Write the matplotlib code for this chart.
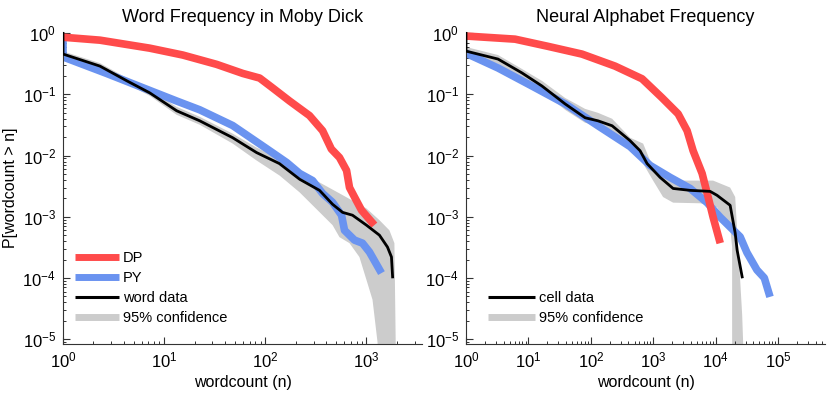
import matplotlib
matplotlib.use("Agg")
import matplotlib.pyplot as plt
from matplotlib.lines import Line2D
from matplotlib.ticker import LogLocator, NullFormatter

plt.rcParams['font.family'] = ['Liberation Sans', 'DejaVu Sans']
plt.rcParams['mathtext.fontset'] = 'custom'
plt.rcParams['mathtext.rm'] = 'Liberation Sans'
plt.rcParams['mathtext.it'] = 'Liberation Sans:italic'
plt.rcParams['mathtext.bf'] = 'Liberation Sans:bold'

# ---------------- Left panel: Word Frequency in Moby Dick ----------------
dp_word_n = [1, 2.32, 7.2, 15.3, 33, 60, 88, 118, 174, 274, 369, 450, 542, 637, 681, 763, 895, 1200]
dp_word_p = [0.86, 0.77, 0.57, 0.44, 0.31, 0.22, 0.185, 0.128, 0.078, 0.045, 0.0255, 0.0128,
             0.0093, 0.0057, 0.003, 0.0021, 0.00128, 0.00073]

py_word_n = [1, 1, 2.7, 6.2, 13.3, 22.5, 47.6, 103, 163, 219, 294, 369, 463, 568, 608, 763, 915, 1073, 1410]
py_word_p = [0.95, 0.41, 0.22, 0.128, 0.078, 0.056, 0.031, 0.013, 0.0077, 0.0051, 0.0039, 0.0024,
             0.00172, 0.00106, 0.0006, 0.000415, 0.00037, 0.000265, 0.00012]

word_n = [1, 1, 2.32, 4.3, 7.2, 13.3, 22.5, 47.6, 82, 138, 219, 344, 463, 581, 729, 1000, 1346, 1616, 1770, 1817]
word_p = [1.0, 0.457, 0.29, 0.166, 0.106, 0.054, 0.037, 0.0196, 0.0112, 0.0074, 0.0041, 0.0027,
          0.0016, 0.00118, 0.00106, 0.00073, 0.0005, 0.00032, 0.00022, 0.000104]

word_hi_n = [1, 1.02, 2.32, 4.28, 7.22, 13.3, 22.5, 47.7, 82.2, 139, 219, 344, 542, 1000, 1346, 1690, 1893, 1983]
word_hi_p = [1.3, 0.5, 0.325, 0.185, 0.118, 0.0626, 0.043, 0.0228, 0.0135, 0.0089, 0.0051, 0.00364,
             0.00241, 0.00137, 0.00088, 0.0006, 0.00037, 1e-6]
word_lo_n = [1, 2.32, 4.28, 7.22, 13.3, 22.5, 47.7, 82.2, 139, 219, 463, 542, 681, 853, 1023, 1150, 1290, 1300]
word_lo_p = [0.44, 0.26, 0.148, 0.0946, 0.0464, 0.0319, 0.0157, 0.0083, 0.0047, 0.0025, 0.00073,
             0.000464, 0.00037, 0.00022, 8.3e-5, 4.4e-5, 8.8e-6, 1e-6]

# ---------------- Right panel: Neural Alphabet Frequency ----------------
dp_cell_n = [1, 6.1, 20.6, 72, 244, 661, 1380, 2500, 3480, 4340, 6050, 7550, 9080, 11800]
dp_cell_p = [0.9, 0.8, 0.61, 0.456, 0.29, 0.18, 0.088, 0.048, 0.0255, 0.012, 0.0051, 0.0021, 0.00098, 0.00037]

py_cell_n = [1, 3.26, 11.4, 38.6, 130, 425, 889, 1860, 3890, 7280, 11800, 17000, 24600, 31600, 45700, 60000, 74000]
py_cell_p = [0.47, 0.27, 0.137, 0.07, 0.0307, 0.014, 0.0069, 0.0044, 0.0029, 0.0017, 0.00098, 0.00068,
             0.00047, 0.00026, 0.000135, 0.0001, 0.000049]

cell_n = [1, 1, 3.26, 7.9, 16.5, 38.6, 81, 130, 219, 425, 614, 795, 1285, 2076, 3890, 8130, 10500,
          17000, 20500, 22000, 26500]
cell_p = [1.0, 0.51, 0.378, 0.224, 0.137, 0.070, 0.0415, 0.037, 0.0307, 0.0175, 0.012, 0.0074, 0.0044,
          0.0029, 0.0027, 0.0026, 0.00224, 0.00154, 0.00054, 0.000285, 0.000104]

cell_hi_n = [1, 1.04, 3.26, 7.9, 16.5, 38.6, 80.7, 130, 219, 425, 687, 889, 1435, 2076, 9080, 17000,
             20500, 22000, 24600, 26500, 29600]
cell_hi_p = [1.3, 0.59, 0.44, 0.26, 0.166, 0.0877, 0.058, 0.05, 0.04, 0.0196, 0.0157, 0.0083, 0.0051,
             0.0039, 0.0039, 0.003, 0.0021, 0.0006, 0.000093, 2.5e-5, 1e-6]
cell_lo_n = [1, 3.26, 7.9, 16.5, 38.6, 80.7, 130, 219, 457, 687, 993, 1435, 2076, 5620, 10500, 17000,
             18300, 18300]
cell_lo_p = [0.47, 0.313, 0.185, 0.114, 0.056, 0.0344, 0.0307, 0.0246, 0.014, 0.0074, 0.0039, 0.0021,
             0.0017, 0.00166, 0.00143, 0.00068, 0.00032, 1e-6]

titles = ["Word Frequency in Moby Dick", "Neural Alphabet Frequency"]
xlabel = "wordcount (n)"
ylabel = "P[wordcount > n]"
left_labels = ["DP", "PY", "word data", "95% confidence"]
right_labels = ["cell data", "95% confidence"]

RED = "#FF4B4B"
BLUE = "#6A93F0"
GRAY = "#CCCCCC"
AXC = "#333333"

fig = plt.figure(figsize=(8.3, 3.95), dpi=100)
axL = fig.add_axes([63/830, 1-344/395, 359/830, 312/395])
axR = fig.add_axes([466/830, 1-344/395, 359/830, 312/395])


def style(ax, xmax):
    ax.set_xscale('log')
    ax.set_yscale('log')
    ax.set_xlim(1, xmax)
    ax.set_ylim(10**-5.08, 10**0.02)
    for s in ['top', 'right']:
        ax.spines[s].set_visible(False)
    for s in ['left', 'bottom']:
        ax.spines[s].set_color(AXC)
        ax.spines[s].set_linewidth(0.8)
    ax.xaxis.set_major_locator(LogLocator(base=10, numticks=20))
    ax.xaxis.set_minor_locator(LogLocator(base=10, subs=range(2, 10), numticks=40))
    ax.yaxis.set_major_locator(LogLocator(base=10, numticks=20))
    ax.yaxis.set_minor_locator(LogLocator(base=10, subs=range(2, 10), numticks=40))
    ax.xaxis.set_minor_formatter(NullFormatter())
    ax.yaxis.set_minor_formatter(NullFormatter())
    ax.tick_params(which='major', direction='in', length=5, width=0.8, color=AXC,
                   labelsize=12, pad=5)
    ax.tick_params(which='minor', direction='in', length=2.5, width=0.7, color=AXC)
    ax.set_xlabel(xlabel, fontsize=11.5, labelpad=3)


def proxy(color, lw):
    return Line2D([], [], color=color, lw=lw, solid_capstyle='butt')


# Left panel
style(axL, 10**3.55)
axL.fill(word_hi_n + word_lo_n[::-1], word_hi_p + word_lo_p[::-1], color=GRAY, lw=0, zorder=1)
axL.plot(py_word_n, py_word_p, color=BLUE, lw=5.5, solid_capstyle='butt', solid_joinstyle='round', zorder=2)
axL.plot(dp_word_n, dp_word_p, color=RED, lw=5.5, solid_capstyle='butt', solid_joinstyle='round', zorder=3)
axL.plot(word_n, word_p, color='black', lw=2, zorder=4)
axL.set_title(titles[0], fontsize=13, pad=7)
axL.set_ylabel(ylabel, fontsize=11.5, labelpad=3)
hL = [proxy(RED, 5), proxy(BLUE, 5), proxy('black', 2.2), proxy(GRAY, 5)]
axL.legend(hL, left_labels, loc='lower left', bbox_to_anchor=(0.033, 0.06), frameon=False,
           fontsize=10.5, handlelength=3.0, handletextpad=0.3, labelspacing=0.42,
           borderpad=0, borderaxespad=0)

# Right panel
style(axR, 10**5.75)
axR.fill(cell_hi_n + cell_lo_n[::-1], cell_hi_p + cell_lo_p[::-1], color=GRAY, lw=0, zorder=1)
axR.plot(py_cell_n, py_cell_p, color=BLUE, lw=5.5, solid_capstyle='butt', solid_joinstyle='round', zorder=2)
axR.plot(dp_cell_n, dp_cell_p, color=RED, lw=5.5, solid_capstyle='butt', solid_joinstyle='round', zorder=3)
axR.plot(cell_n, cell_p, color='black', lw=2, zorder=4)
axR.set_title(titles[1], fontsize=13, pad=7)
hR = [proxy('black', 2.2), proxy(GRAY, 5)]
axR.legend(hR, right_labels, loc='lower left', bbox_to_anchor=(0.061, 0.06), frameon=False,
           fontsize=10.5, handlelength=3.2, handletextpad=0.3, labelspacing=0.42,
           borderpad=0, borderaxespad=0)

fig.savefig("out.png", dpi=100)
